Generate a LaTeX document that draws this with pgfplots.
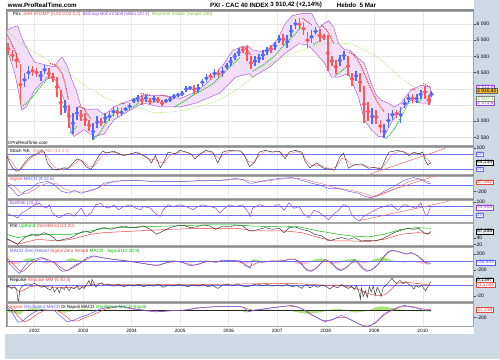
\documentclass[border=0pt]{standalone}
\usepackage{pgfplots}
\pgfplotsset{compat=1.18}
\usepackage{pgfplotstable}
\usepackage{fontspec}
\setmainfont{Liberation Sans}
\definecolor{bg}{RGB}{205,218,228}
\definecolor{barblue}{RGB}{80,105,255}
\definecolor{barred}{RGB}{255,85,85}
\definecolor{bandfill}{RGB}{242,222,246}
\definecolor{bandedge}{RGB}{175,95,215}
\definecolor{magreen}{RGB}{150,225,80}
\definecolor{sarred}{RGB}{230,70,70}
\definecolor{sargreen}{RGB}{55,195,55}
\definecolor{hblue}{RGB}{110,110,240}
\definecolor{lblue}{RGB}{90,90,250}
\definecolor{sep}{RGB}{140,140,140}
\definecolor{stochd}{RGB}{240,130,130}
\definecolor{purp}{RGB}{150,70,210}
\definecolor{lgreen}{RGB}{170,230,120}
\definecolor{lpink}{RGB}{245,190,200}
\definecolor{orbox}{RGB}{245,185,50}
\newcommand\lf{\fontsize{4.6}{5}\selectfont}
\newcommand\tf{\fontsize{5}{5.5}\selectfont}
\newcommand\hf{\fontsize{6.3}{7}\selectfont\bfseries}

\pgfplotstableread{
x lo hi
19.8 4050 4500
23.9 4300 4700
36.2 4250 4550
40.2 4450 4720
60.7 3250 3650
68.8 2620 3250
72.9 3050 3450
89.2 2420 2950
93.3 2800 3150
101.5 2950 3250
105.6 3000 3300
109.7 3150 3450
117.8 3150 3400
121.9 3300 3450
126.0 3350 3570
130.1 3550 3720
134.2 3600 3800
142.3 3600 3820
150.5 3600 3770
162.7 3550 3700
166.8 3580 3760
170.9 3700 3830
175.0 3750 3860
179.1 3780 3920
183.2 3900 4080
187.2 3950 4100
195.4 3880 4150
199.5 4100 4300
203.6 4200 4460
211.7 4330 4620
219.9 4350 4680
224.0 4600 4780
228.1 4700 4980
232.2 4900 5100
236.2 5000 5250
252.6 4700 5000
256.7 4800 5080
260.7 4900 5180
264.8 5050 5300
273.0 5200 5450
277.1 5400 5650
285.2 5250 5650
289.3 5600 5950
293.4 5850 6150
309.7 5400 5800
313.8 5650 5900
338.3 4700 5050
342.4 4900 5150
354.7 4250 4550
371.0 2900 3400
383.2 2480 2900
387.3 2800 3250
391.4 3050 3350
399.6 2950 3450
403.7 3400 3700
407.7 3550 3850
415.9 3550 3850
420.0 3700 3950
430.8 3750 3925
}\barsup
\pgfplotstableread{
x lo hi
3.5 5050 5400
7.6 4850 5200
11.7 4650 5100
15.7 3500 4750
28.0 4400 4700
32.1 4350 4650
44.3 4300 4650
48.4 4200 4500
52.5 3750 4350
56.6 3200 3950
64.7 2800 3500
77.0 3000 3350
81.1 2850 3250
85.2 2700 3050
97.4 2850 3100
113.7 3100 3450
138.2 3500 3800
146.4 3520 3720
154.6 3550 3750
158.7 3460 3650
191.3 3850 4120
207.7 4280 4500
215.8 4300 4620
240.3 5100 5300
244.4 4850 5320
248.5 4600 5000
268.9 5100 5350
281.2 5350 5700
297.5 5800 6170
301.6 5650 6050
305.7 5250 5750
317.9 5450 5850
322.0 5500 5700
326.1 4550 5650
330.2 4700 5000
334.2 4450 4900
346.5 4400 5000
350.6 4100 4500
358.7 3900 4500
362.8 2950 4100
366.9 3000 3600
375.1 2900 3350
379.2 2650 3050
395.5 3100 3350
411.8 3550 3850
424.1 3700 4100
428.2 3500 3800
}\barsdn
% Bollinger upper band, then lower band in reverse order (one closed outline)
\pgfplotstableread{
x y
2 5790
8 5900
13 5940
18 5500
25 5090
30 4820
43 4720
50 4680
55 4900
58 4970
63 4700
68 4250
72 3960
77 3440
83 3350
93 3380
100 3200
105 3300
110 3440
127 3650
140 3800
160 3800
177 3700
193 3900
203 4150
213 4470
222 4800
230 5180
237 5270
245 5330
250 5200
258 5150
265 5200
275 5500
283 6000
290 6250
300 6320
310 6320
315 6000
318 5880
322 6000
327 6100
332 5900
337 5400
343 5200
348 5200
355 5000
363 4780
370 4170
375 3800
380 3650
387 3560
393 3440
400 3560
410 3960
420 4110
430 4050
430 3560
420 3560
410 3650
400 3350
390 2950
383 2530
377 2530
370 2740
363 3050
357 3750
347 4470
337 4360
330 4360
323 4780
310 5240
305 5350
297 5390
283 5090
267 4660
258 4500
250 4360
247 4470
233 4360
217 3870
193 3560
177 3440
157 3440
140 3560
127 3350
110 3040
100 2600
90 2530
80 2740
70 2530
67 2650
65 3000
60 3650
53 4200
50 4300
43 4360
30 3960
22 3450
17 3350
14 3900
10 4480
2 5240
}\bband

\pgfplotsset{panel/.style={scale only axis, width=471pt, anchor=south west,
  xmin=2, xmax=473, axis background/.style={fill=white},
  axis line style={draw=gray!70, line width=0.3pt},
  xtick={30,79,128,177,226,275,324,373,422}, xticklabels={}, yticklabels={},
  xmajorgrids, grid style={draw=gray!18, line width=0.4pt},
  tick style={draw=none}, clip=true}}
\tikzset{sar/.style={line width=1.6pt, dash pattern=on 0pt off 2.1pt, line cap=round},
  lg/.style={anchor=north west, inner sep=0pt, font=\lf},
  box/.style={anchor=west, inner xsep=0.8pt, inner ysep=0.4pt, fill=white, font=\tf, line width=0.35pt}}

\begin{document}
\begin{tikzpicture}
\fill[bg] (0,0) rectangle (500pt,363pt);
\fill[white] (0,26pt) rectangle (473.5pt,363pt);
\fill[sep] (1.5pt,33pt) rectangle (473.5pt,353.5pt);
\node[anchor=west, inner sep=0pt, font=\hf] at (3pt,358pt) {www.ProRealTime.com};
\node[anchor=west, inner sep=0pt, font=\hf] at (207pt,358pt) {PXI - CAC 40 INDEX};
\node[anchor=west, inner sep=0pt, font=\hf] at (268pt,358pt) {3 910,42 (+2,14\%)};
\node[anchor=west, inner sep=0pt, font=\hf] at (335pt,358pt) {Hebdo\ \ 5 Mar};

% ---------------- price panel
\begin{axis}[panel, at={(2pt,216pt)}, height=136pt, ymin=2250, ymax=6400,
  ytick={2500,3000,...,6000}, ymajorgrids]
\addplot[fill=bandfill, draw=bandedge, line width=0.5pt] table {\bband} -- cycle;
\addplot[magreen, line width=0.55pt, dash pattern=on 0.8pt off 1.1pt] coordinates {
(2,5790) (20,5300) (40,4950) (57,4660) (70,4350) (83,4050) (100,3750) (120,3500)
(133,3440) (150,3260) (167,3280) (183,3350) (200,3480) (217,3660) (233,3950)
(250,4360) (270,4800) (285,5050) (300,5180) (312,5320) (323,5390) (340,5400)
(350,5390) (363,5200) (377,4965) (392,4550) (407,4170) (420,3950) (430,3870)};
\addplot[barred, only marks, mark=none, error bars/.cd, y dir=both, y explicit,
  error mark=none, error bar style={line width=1.7pt}]
  table[x=x, y expr={(\thisrow{lo}+\thisrow{hi})/2}, y error expr={(\thisrow{hi}-\thisrow{lo})/2}] {\barsdn};
\addplot[barblue, only marks, mark=none, error bars/.cd, y dir=both, y explicit,
  error mark=none, error bar style={line width=1.7pt}]
  table[x=x, y expr={(\thisrow{lo}+\thisrow{hi})/2}, y error expr={(\thisrow{hi}-\thisrow{lo})/2}] {\barsup};
% SAR
\addplot[sarred, sar] coordinates {(2,5700) (5,5500) (9,5250) (13,4950) (15,4780)};
\addplot[sarred, sar] coordinates {(46,4780) (50,4740) (54,4650) (58,4450) (61,4150) (64,3700)};
\addplot[sarred, sar] coordinates {(75,3450) (79,3400) (83,3250) (87,3050)};
\addplot[sarred, sar] coordinates {(118,3560) (122,3540)};
\addplot[sarred, sar] coordinates {(138,3850) (143,3830) (148,3790)};
\addplot[sarred, sar] coordinates {(158,3800) (164,3770) (170,3720)};
\addplot[sarred, sar] coordinates {(239,5300) (243,5250) (246,5150) (249,5020)};
\addplot[sarred, sar] coordinates {(301,6160) (305,6080) (310,5960)};
\addplot[sarred, sar] coordinates {(320,5950) (324,5850) (328,5650) (332,5400)};
\addplot[sarred, sar] coordinates {(348,5120) (352,5050) (356,4900) (360,4680) (364,4400) (368,4100) (372,3850) (376,3600) (380,3420) (383,3300)};
\addplot[sarred, sar] coordinates {(412,3980) (416,3960)};
\addplot[sarred, sar] coordinates {(423,4150) (426,4110) (429,4060)};
\addplot[sargreen, sar] coordinates {(17,3450) (22,3560) (28,3750) (33,3950) (38,4130) (43,4300)};
\addplot[sargreen, sar] coordinates {(66,2650) (70,2760) (73,2870)};
\addplot[sargreen, sar] coordinates {(89,2440) (95,2600) (100,2850) (106,3100) (112,3300) (116,3400)};
\addplot[sargreen, sar] coordinates {(124,3350) (130,3450) (136,3580)};
\addplot[sargreen, sar] coordinates {(150,3580) (156,3640)};
\addplot[sargreen, sar] coordinates {(172,3450) (180,3600) (190,3800) (200,3970) (210,4150) (220,4450) (230,4750) (237,4950)};
\addplot[sargreen, sar] coordinates {(251,4550) (262,4760) (272,5000) (282,5350) (292,5650) (299,5900)};
\addplot[sargreen, sar] coordinates {(312,5380) (317,5450)};
\addplot[sargreen, sar] coordinates {(334,4400) (338,4500) (342,4600) (346,4700)};
\addplot[sargreen, sar] coordinates {(385,2480) (390,2620) (396,2900) (402,3250) (407,3550) (410,3650)};
\addplot[sargreen, sar] coordinates {(418,3600) (421,3700)};
\node[lg] at (rel axis cs:0,1) [xshift=6pt, yshift=-1.5pt] {Prix\ \ \textcolor{sarred}{SAR ATDMP (0,02 0,02 0,2)}\ \ \textcolor{purp}{Boll sup Boll inf Boll milieu (20 2)}\ \ \textcolor{magreen!85!black}{Moyenne mobile (Simple 100)}};
\node[lg, anchor=south west] at (rel axis cs:0,0) [xshift=1pt, yshift=0.5pt] {©ProRealTime.com};
\end{axis}

% ---------------- Stoch
\begin{axis}[panel, at={(2pt,187pt)}, height=27pt, ymin=-1, ymax=105]
\draw[hblue, line width=0.5pt] (axis cs:2,80) -- (axis cs:473,80);
\draw[hblue, line width=0.5pt] (axis cs:2,20) -- (axis cs:473,20);
\addplot[stochd, line width=0.5pt] coordinates {(2,78) (6,55) (10,30) (14,15) (18,25) (23,50) (28,68) (33,78) (38,88) (42,75) (46,45) (51,25) (57,18) (63,24) (68,32) (74,52) (79,50) (85,30) (90,30) (96,60) (101,85) (107,87) (113,85) (118,78) (124,77) (130,83) (136,82) (142,70) (147,55) (151,60) (156,45) (161,45) (166,72) (172,82) (178,88) (184,87) (190,72) (195,70) (200,85) (206,90) (212,75) (217,62) (222,80) (228,90) (236,92) (241,82) (246,50) (251,45) (256,70) (262,88) (270,88) (278,88) (284,72) (289,82) (295,90) (301,78) (305,50) (310,33) (317,35) (323,28) (329,20) (335,30) (340,62) (345,58) (350,35) (356,35) (362,36) (368,28) (375,24) (381,25) (386,50) (391,78) (398,90) (404,88) (409,78) (415,82) (420,82) (425,65) (430,45)};
\addplot[black!80, line width=0.45pt] coordinates {(2,73) (5,44) (8,23) (12,11) (15,16) (20,44) (25,66) (28,73) (32,80) (35,87) (37,94) (40,87) (43,44) (48,20) (53,16) (60,25) (64,22) (68,40) (73,60) (77,55) (82,30) (87,18) (91,45) (95,73) (99,91) (103,83) (110,91) (115,80) (120,73) (127,80) (133,87) (140,73) (145,61) (148,44) (152,73) (157,25) (160,44) (165,87) (172,80) (177,94) (183,87) (188,80) (192,59) (197,80) (203,94) (210,87) (215,44) (220,87) (227,94) (233,92) (238,92) (242,73) (247,30) (252,45) (257,87) (263,94) (270,87) (277,91) (283,61) (287,87) (293,94) (300,87) (303,51) (308,25) (315,44) (322,23) (327,20) (333,16) (338,66) (342,83) (347,23) (353,37) (360,40) (367,23) (373,26) (380,20) (385,66) (388,87) (397,94) (403,87) (408,73) (413,87) (418,80) (422,87) (424,59) (427,37) (430,44)};
\addplot[sarred!80, line width=0.5pt] coordinates {(368,-1) (445,102)};
\node[lg] at (rel axis cs:0,1) [xshift=3pt, yshift=-1pt] {Stoch \%K\ \ \textcolor{stochd}{Stoch \%D (14 3 3)}};
\end{axis}

% ---------------- MACD
\begin{axis}[panel, at={(2pt,163pt)}, height=22.5pt, ymin=-410, ymax=283]
\draw[hblue, line width=0.5pt] (axis cs:2,0) -- (axis cs:473,0);
\addplot[stochd, line width=0.5pt] coordinates {(2,80) (10,-50) (16,-250) (22,-280) (28,-180) (35,-40) (44,70) (52,40) (60,-120) (68,-220) (75,-220) (82,-220) (90,-160) (98,-30) (106,70) (116,120) (130,140) (145,120) (160,110) (180,110) (200,125) (220,140) (236,180) (244,150) (252,90) (262,110) (278,180) (292,210) (303,170) (313,90) (322,20) (331,-70) (341,-120) (351,-180) (360,-240) (367,-320) (374,-370) (381,-300) (388,-200) (398,-60) (408,100) (418,190) (425,130) (430,80)};
\addplot[lblue, line width=0.45pt] coordinates {(2,0) (8,-150) (13,-350) (17,-300) (20,-200) (27,-110) (33,50) (43,110) (50,0) (57,-200) (65,-260) (70,-170) (77,-260) (83,-200) (93,-110) (100,50) (110,110) (120,140) (133,140) (147,110) (157,110) (167,110) (183,110) (200,140) (217,140) (233,200) (240,170) (247,50) (250,50) (263,140) (277,200) (290,230) (300,140) (310,50) (317,0) (327,-110) (337,-110) (347,-200) (357,-260) (363,-350) (370,-400) (377,-320) (383,-200) (393,-50) (403,140) (413,230) (420,170) (427,50) (430,38)};
\addplot[sarred!80, line width=0.5pt] coordinates {(367,-410) (440,340)};
\node[lg] at (rel axis cs:0,1) [xshift=3pt, yshift=-1pt] {\textcolor{sarred}{Signal} \textcolor{lblue}{MACD (9 12 6)}};
\end{axis}

% ---------------- BollPab
\begin{axis}[panel, at={(2pt,139pt)}, height=22pt, ymin=-25, ymax=124]
\draw[hblue, line width=0.5pt] (axis cs:2,80) -- (axis cs:473,80);
\draw[hblue, line width=0.5pt] (axis cs:2,20) -- (axis cs:473,20);
\addplot[purp, line width=0.5pt] coordinates {(2,35) (5,24) (10,13) (13,2) (17,35) (23,58) (30,91) (35,102) (38,80) (42,69) (45,91) (48,35) (52,13) (55,2) (60,24) (65,35) (70,13) (77,69) (82,13) (87,35) (92,91) (97,102) (100,80) (105,69) (110,91) (115,58) (120,80) (127,91) (132,69) (137,58) (140,80) (147,69) (153,24) (157,13) (160,58) (165,91) (170,80) (177,91) (183,80) (190,58) (195,80) (200,91) (207,80) (213,69) (217,35) (222,69) (227,91) (233,80) (240,91) (245,47) (248,13) (250,67) (257,93) (263,80) (270,80) (277,93) (282,54) (287,106) (292,67) (297,80) (302,28) (307,2) (312,54) (317,41) (322,15) (327,-11) (332,28) (337,54) (342,93) (347,80) (350,28) (353,2) (358,-20) (363,15) (370,41) (377,67) (383,80) (390,93) (397,54) (403,93) (410,80) (415,67) (420,106) (423,54) (425,15) (427,28) (430,80)};
\addplot[sarred!80, line width=0.5pt] coordinates {(358,-17) (448,115)};
\node[lg] at (rel axis cs:0,1) [xshift=3pt, yshift=-1pt] {\textcolor{purp}{BollPab (20 2)}};
\end{axis}

% ---------------- RSI
\begin{axis}[panel, at={(2pt,115pt)}, height=22.5pt, ymin=16, ymax=83]
\addplot[green!75!black, line width=0.5pt] coordinates {(2,50) (13,40) (33,50) (67,50) (87,60) (100,68) (133,72) (167,75) (200,78) (233,78) (250,75) (283,72) (293,75) (317,60) (337,50) (350,45) (367,42) (383,50) (400,65) (417,70) (430,68)};
\addplot[sarred, line width=0.5pt] coordinates {(2,35) (13,20) (33,35) (53,30) (67,35) (87,50) (100,55) (133,60) (167,65) (200,68) (233,68) (240,66) (250,60) (283,60) (300,55) (317,40) (333,30) (350,30) (367,28) (383,35) (400,50) (417,55) (430,52)};
\addplot[black!80, line width=0.45pt] coordinates {(0,40) (7,30) (13,20) (20,40) (27,50) (33,45) (40,55) (47,45) (53,30) (60,35) (67,40) (73,50) (80,60) (87,55) (93,65) (100,70) (107,65) (113,70) (120,75) (127,70) (133,70) (140,75) (147,65) (153,50) (160,60) (167,70) (173,75) (180,78) (187,70) (193,72) (200,78) (207,75) (213,65) (220,75) (227,72) (233,78) (240,75) (247,60) (250,60) (257,65) (263,70) (270,65) (277,68) (282,55) (287,70) (293,72) (300,65) (307,60) (313,50) (320,45) (327,30) (333,35) (340,40) (347,35) (353,40) (360,30) (367,32) (373,30) (380,35) (387,45) (393,55) (400,62) (407,68) (413,65) (418,68) (423,55) (427,50) (430,58)};
\node[lg] at (rel axis cs:0,1) [xshift=3pt, yshift=-1pt] {RSI \textcolor{green!75!black}{UpBand} \textcolor{sarred}{DownBand (14 20)}};
\end{axis}

% ---------------- MACD zero retard
\begin{axis}[panel, at={(2pt,85.5pt)}, height=27.5pt, ymin=-330, ymax=342]
\addplot[lgreen, fill=lgreen, draw=none, y filter/.expression={max(y,0)}] coordinates {(3,-40) (8,-60) (13,-60) (17,-30) (21,60) (25,90) (28,60) (32,20) (36,-20) (40,-40) (45,-30) (50,-40) (55,-50) (60,10) (64,60) (68,80) (72,50) (77,30) (82,20) (87,10) (92,-10) (97,-20) (102,-10) (110,-15) (120,-10) (130,-10) (140,-20) (150,-20) (158,20) (165,30) (172,10) (180,-20) (188,-30) (196,20) (204,20) (212,-10) (220,10) (228,-10) (236,10) (242,-60) (247,-40) (252,60) (258,20) (266,10) (274,10) (282,20) (290,0) (296,-60) (302,-80) (308,-20) (314,60) (320,70) (326,10) (332,-60) (338,-40) (344,40) (350,60) (356,40) (362,-50) (368,-20) (374,60) (380,110) (386,80) (392,20) (398,-20) (404,-30) (410,20) (416,-30) (422,-60) (427,-30) (430,-10)} \closedcycle;
\addplot[lpink, fill=lpink, draw=none, y filter/.expression={min(y,0)}] coordinates {(3,-40) (8,-60) (13,-60) (17,-30) (21,60) (25,90) (28,60) (32,20) (36,-20) (40,-40) (45,-30) (50,-40) (55,-50) (60,10) (64,60) (68,80) (72,50) (77,30) (82,20) (87,10) (92,-10) (97,-20) (102,-10) (110,-15) (120,-10) (130,-10) (140,-20) (150,-20) (158,20) (165,30) (172,10) (180,-20) (188,-30) (196,20) (204,20) (212,-10) (220,10) (228,-10) (236,10) (242,-60) (247,-40) (252,60) (258,20) (266,10) (274,10) (282,20) (290,0) (296,-60) (302,-80) (308,-20) (314,60) (320,70) (326,10) (332,-60) (338,-40) (344,40) (350,60) (356,40) (362,-50) (368,-20) (374,60) (380,110) (386,80) (392,20) (398,-20) (404,-30) (410,20) (416,-30) (422,-60) (427,-30) (430,-10)} \closedcycle;
\draw[hblue, line width=0.5pt] (axis cs:2,0) -- (axis cs:473,0);
\addplot[sarred, line width=0.5pt] coordinates {(2,100) (6,-10) (13,-180) (17,-260) (21,-200) (26,-60) (33,40) (40,80) (46,20) (52,-60) (58,-180) (62,-230) (67,-180) (74,-80) (80,20) (87,110) (93,120) (102,80) (112,45) (122,15) (130,-10) (138,-40) (148,-80) (156,-90) (164,-30) (174,0) (183,-50) (191,-90) (200,-30) (207,0) (216,0) (224,25) (232,25) (240,-40) (246,-130) (250,-90) (256,-20) (264,0) (274,10) (284,30) (291,60) (297,10) (302,-150) (308,-230) (314,-180) (320,-20) (326,20) (332,-100) (338,-200) (344,-170) (350,-30) (356,0) (363,-190) (368,-230) (374,-150) (380,20) (386,200) (391,260) (397,250) (403,200) (408,200) (414,180) (420,80) (425,-20) (430,-50)};
\addplot[lblue, line width=0.5pt] coordinates {(2,57) (5,-65) (12,-244) (15,-293) (18,-187) (23,-24) (30,57) (37,98) (43,16) (50,-24) (55,-187) (58,-244) (63,-228) (70,-106) (77,-24) (83,98) (90,138) (97,98) (107,57) (117,33) (127,0) (133,-24) (143,-65) (153,-106) (160,-49) (170,16) (180,-24) (187,-106) (197,-65) (203,16) (213,-24) (220,33) (227,16) (237,33) (243,-106) (248,-163) (250,16) (260,-24) (270,16) (280,0) (287,57) (293,57) (300,-65) (305,-228) (310,-244) (317,-106) (323,57) (330,-24) (335,-187) (340,-228) (347,-106) (353,57) (360,-146) (365,-244) (370,-212) (377,-65) (383,138) (388,260) (393,277) (400,220) (405,179) (410,220) (417,138) (422,16) (427,-65) (430,-57)};
\node[lg] at (rel axis cs:0,1) [xshift=3pt, yshift=-1pt] {\textcolor{lblue}{MACD Zero Retard} \textcolor{sarred}{Signal Zero Retard} \textcolor{green!70!black}{MACD - Signal (12 26 9)}};
\end{axis}

% ---------------- Repulse
\begin{axis}[panel, at={(2pt,58.5pt)}, height=25pt, ymin=-29, ymax=14.4]
\draw[hblue, line width=0.5pt] (axis cs:2,0) -- (axis cs:473,0);
\addplot[sarred, line width=0.5pt] coordinates {(2,-3) (10,-5) (15,-12) (20,-8) (25,-3) (33,-1) (50,-4) (67,-4) (80,-3) (88,1) (95,2) (110,1) (150,1) (200,1) (250,2) (280,3) (300,2) (320,0) (340,-1) (350,-4) (358,-8) (365,-14) (372,-17) (378,-19) (384,-17) (390,-8) (396,3) (405,5) (415,3) (425,1) (430,-1)};
\addplot[black!80, line width=0.45pt] coordinates {(2,-4) (3,-2) (7,-6) (10,-3) (12,-8) (13,-25) (14,-28) (15,-10) (17,-3) (20,0) (23,2) (27,1) (30,3) (33,0) (37,-4) (40,-2) (43,-6) (46,-9) (48,-3) (50,-12) (53,-5) (55,-14) (57,-4) (60,-8) (62,-2) (65,-10) (67,-4) (70,-7) (73,-1) (75,-8) (78,-3) (80,-6) (83,2) (85,8) (87,-2) (88,10) (90,3) (92,-4) (95,2) (98,4) (100,0) (105,1) (110,-2) (115,1) (120,-3) (125,0) (130,-2) (135,1) (140,-3) (145,0) (150,-2) (155,1) (160,-4) (165,0) (170,-2) (175,1) (180,-1) (185,-3) (190,0) (195,-2) (200,1) (205,-3) (210,-1) (215,-6) (220,0) (225,1) (230,-1) (235,2) (240,-2) (245,-3) (250,0) (255,2) (260,-1) (265,1) (270,-2) (275,0) (280,-2) (285,1) (290,-3) (295,-1) (300,-6) (302,-2) (305,1) (308,-5) (312,-1) (316,-4) (320,0) (325,-3) (328,-7) (332,-2) (336,-5) (340,1) (343,-3) (347,-6) (350,-2) (353,-8) (355,-1) (358,-15) (359,-25) (360,-5) (362,-20) (364,-10) (366,-22) (368,-3) (370,-12) (372,-2) (374,-18) (376,-4) (378,-10) (380,-20) (382,-5) (384,-2) (386,2) (389,8) (391,12) (393,6) (396,3) (399,8) (402,2) (405,6) (408,1) (411,-2) (413,-7) (415,-1) (418,-4) (421,0) (423,-6) (425,-10) (427,-3) (430,5)};
\node[lg] at (rel axis cs:0,1) [xshift=3pt, yshift=-1pt] {Repulse \textcolor{sarred}{Repulse MM (5 40 3)}};
\end{axis}

% ---------------- Oscillateur
\begin{axis}[panel, at={(2pt,33.5pt)}, height=23pt, ymin=-458, ymax=200]
\addplot[lgreen, fill=lgreen, draw=none] coordinates {(2,-50) (8,-70) (15,-110) (20,0) (26,60) (33,60) (40,20) (52,-10) (60,-70) (67,-30) (74,30) (80,40) (87,20) (94,20) (102,20) (112,20) (122,-10) (133,-10) (147,-20) (160,20) (172,0) (185,-10) (198,0) (212,-10) (226,0) (238,-10) (244,-60) (250,-10) (258,30) (270,20) (285,20) (295,-50) (303,-90) (312,-80) (320,-50) (328,20) (337,50) (345,0) (353,-60) (360,-40) (367,-10) (374,90) (380,120) (388,90) (398,40) (407,-20) (414,-20) (420,-30) (427,-25) (430,-40)} \closedcycle;
\draw[black!85, line width=0.6pt] (axis cs:2,0) -- (axis cs:430,0);
\addplot[sarred, line width=0.5pt] coordinates {(2,150) (8,30) (15,-220) (20,-330) (26,-250) (33,-100) (40,0) (52,10) (60,-120) (67,-300) (74,-300) (80,-220) (87,-150) (94,-60) (102,40) (112,100) (122,100) (133,40) (147,-10) (160,-30) (172,0) (185,20) (198,80) (212,110) (226,120) (238,115) (244,60) (250,10) (258,20) (270,80) (285,130) (295,110) (303,10) (312,-150) (320,-280) (328,-300) (337,-200) (345,-200) (353,-320) (360,-420) (367,-460) (374,-370) (380,-200) (388,-40) (398,90) (407,130) (414,100) (420,50) (427,20) (430,30)};
\addplot[lblue, line width=0.5pt] coordinates {(2,100) (7,-43) (13,-329) (17,-329) (23,-186) (30,-43) (37,23) (50,0) (57,-186) (63,-329) (70,-280) (77,-186) (83,-137) (90,-43) (97,51) (107,100) (117,120) (127,51) (140,0) (153,-43) (167,0) (180,0) (193,71) (207,100) (220,120) (233,120) (240,100) (247,-43) (250,0) (263,51) (277,100) (290,149) (300,51) (307,-91) (317,-234) (323,-329) (333,-234) (340,-137) (350,-280) (357,-377) (363,-472) (370,-423) (377,-280) (383,-91) (393,51) (403,149) (410,100) (417,60) (423,0) (430,-10)};
\node[lg] at (rel axis cs:0,1) [xshift=3pt, yshift=-1pt] {\textcolor{sarred}{Signal} \textcolor{lblue}{Oscillateur MACD} Di Napoli MACD \textcolor{green!70!black}{Oscillateur MACD-Signal}};
\end{axis}

% ---------------- year labels
\foreach \xx/\yy in {30/2002,79/2003,128/2004,177/2005,226/2006,275/2007,324/2008,373/2009,422/2010}
  \node[font=\fontsize{4.8}{5}\selectfont, inner sep=0pt] at (\xx pt,29pt) {\yy};

% ---------------- right labels
\foreach \yy/\tt in {338.9/6 000,322.5/5 500,306.1/5 000,289.8/4 500,240.6/3 000,224.2/2 500,213.5/100,169.7/-200,159/100,123/40,116.3/20,106.7/200,90.5/-200,64/-20,42.3/-200}{
  \draw[black!70, line width=0.3pt] (473.5pt,\yy pt) -- (475.5pt,\yy pt);
  \node[anchor=west, inner sep=0.5pt, font=\tf] at (475.8pt,\yy pt) {\tt};
}
\node[box, draw=purp, text=purp] at (476pt,275pt) {3 913,6};
\node[box, fill=orbox, draw=black!60] at (476pt,271.3pt) {3 910,42};
\node[box, draw=purp, text=purp] at (476pt,259pt) {3 373,6};
\node[box, draw=gray, text=magreen!85!black] at (476pt,263.3pt) {3 607,1};
\node[box, draw=hblue, text=hblue] at (476pt,207.5pt) {80};
\node[box, draw=black] at (476pt,199pt) {44,234};
\node[box, draw=hblue, text=hblue] at (476pt,192.3pt) {20};
\node[box, draw=sarred, text=sarred] at (476pt,179pt) {37,992};
\node[box, draw=purp, text=purp] at (476pt,153.7pt) {74,995};
\node[box, draw=hblue, text=hblue] at (476pt,146pt) {20};
\node[box, draw=black, fill=gray!15] at (476pt,129.5pt) {57,255};
\node[box, draw=lblue, text=lblue] at (476pt,98pt) {-56,995};
\node[box, draw=black] at (476pt,80pt) {5,1397};
\node[box, draw=sarred, text=sarred] at (476pt,75.5pt) {-1,2784};
\node[box, draw=sarred, text=sarred] at (476pt,50.3pt) {31,238};
\end{tikzpicture}
\end{document}
